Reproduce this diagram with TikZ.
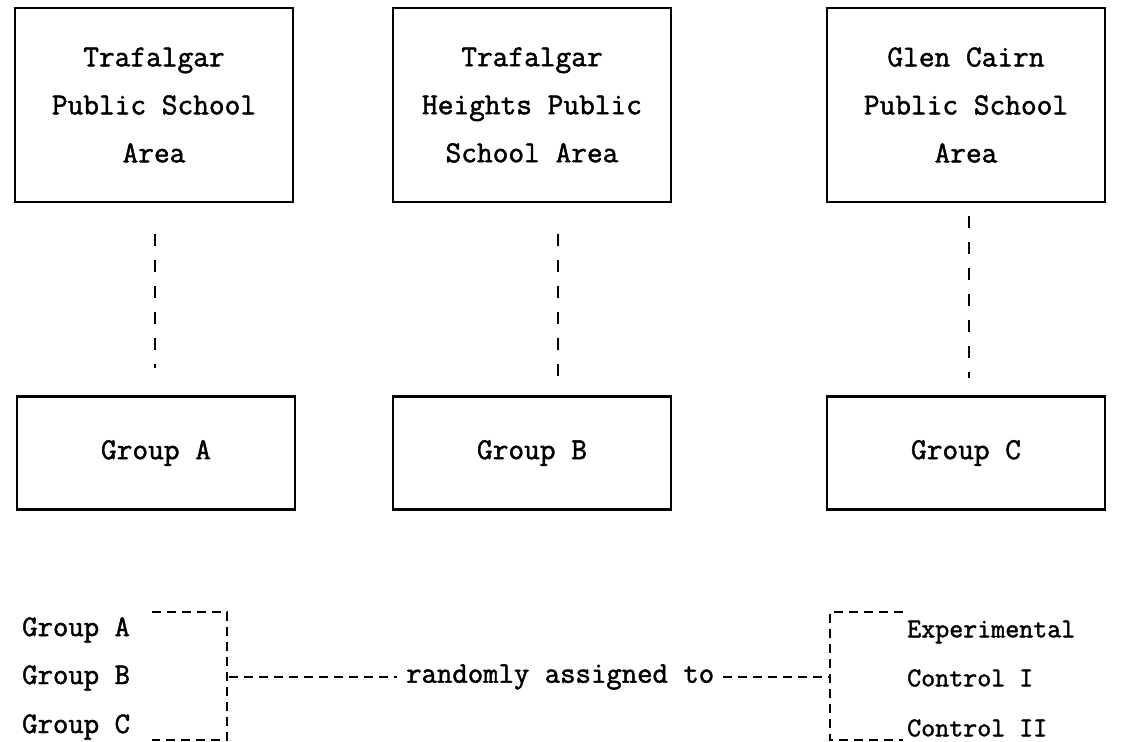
\documentclass[tikz,border=0pt]{standalone}
\usepackage{fontspec}
\setmonofont{Latin Modern Mono}[FakeBold=1.6]
\usetikzlibrary{positioning}
\tikzset{
  area/.style={draw, line width=2.4pt, minimum width=278pt, minimum height=194pt, align=center,
    font=\ttfamily\fontsize{30.5}{48}\selectfont},
  grp/.style={draw, line width=2.4pt, minimum width=278pt, minimum height=113pt,
    font=\ttfamily\fontsize{30.5}{48}\selectfont},
  link/.style={line width=2.4pt, dash pattern=on 12pt off 14pt},
  brk/.style={line width=2.6pt, dash pattern=on 9pt off 6pt},
  lbl/.style={anchor=west, inner sep=0pt, font=\ttfamily\fontsize{29.9}{30}\selectfont},
  rlbl/.style={lbl, font=\ttfamily\fontsize{27.2}{30}\selectfont}
}
\begin{document}
\begin{tikzpicture}[x=1pt,y=-1pt]
 \useasboundingbox (0,0) rectangle (1142,741);
 % school areas
 \node[area] (area1) at (154,105) {Trafalgar\\Public School\\Area};
 \node[area] (area2) at (532,105) {Trafalgar\\Heights Public\\School Area};
 \node[area] (area3) at (966,105) {Glen Cairn\\Public School\\Area};
 % groups
 \node[grp] (grp1) at (156,453) {Group A};
 \node[grp] (grp2) at (532,453) {Group B};
 \node[grp] (grp3) at (966,453) {Group C};
 \draw[link, shorten <=31pt, shorten >=27pt] ([xshift=1pt]area1.south) -- ([xshift=-1pt]grp1.north);
 \draw[link, shorten <=31pt, shorten >=17pt] ([xshift=26pt]area2.south) -- ([xshift=26pt]grp2.north);
 \draw[link, shorten <=13pt, shorten >=17pt] ([xshift=3pt]area3.south) -- ([xshift=3pt]grp3.north);
 % random assignment
 \node[lbl] (ga) at (22,630) {Group A};
 \node[lbl] (gb) at (22,678) {Group B};
 \node[lbl] (gc) at (22,727) {Group C};
 \node[rlbl] (exp) at (907,632) {Experimental};
 \node[rlbl] (ctl1) at (907,678) {Control I};
 \node[rlbl] (ctl2) at (907,728) {Control II};
 \node[lbl, inner sep=9pt] (rand) at (397,677) {randomly assigned to};
 \coordinate (lmid) at (229,677);
 \coordinate (rmid) at (830,677);
 \draw[brk] (152,612) -- (227,612) -- (227,740) -- (152,740);
 \draw[brk] (903,612) -- (830,612) -- (830,740) -- (903,740);
 \draw[brk] (lmid) -- (rand.west);
 \draw[brk] (rand.east) -- (rmid);
\end{tikzpicture}
\end{document}
